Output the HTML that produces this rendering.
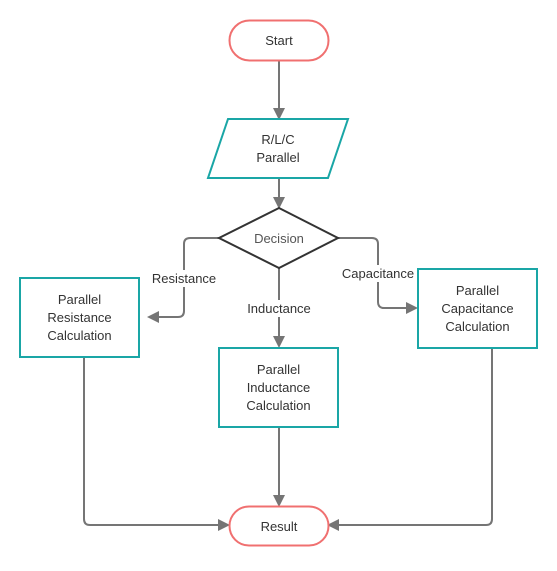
<!DOCTYPE html>
<html><head><style>body{margin:0;background:#fff}</style></head><body>
<svg width="557" height="566" xmlns="http://www.w3.org/2000/svg" font-family="Liberation Sans, sans-serif" font-size="13" fill="#333">
<defs><marker id="a" markerWidth="12" markerHeight="12" refX="10" refY="6" orient="auto" markerUnits="userSpaceOnUse"><path d="M0,0 L12,6 L0,12 z" fill="#757575"/></marker></defs>
<g stroke="#757575" stroke-width="2" fill="none" marker-end="url(#a)">
<path d="M279,60 V118"/>
<path d="M279,178 V207"/>
<path d="M219,238 H190 Q184,238 184,244 V311 Q184,317 178,317 H149"/>
<path d="M338,238 H372 Q378,238 378,244 V302 Q378,308 384,308 H416"/>
<path d="M279,268 V346"/>
<path d="M84,357 V519 Q84,525 90,525 H228"/>
<path d="M279,427 V505"/>
<path d="M492,348 V519 Q492,525 486,525 H329"/>
</g>
<rect x="229.5" y="20.5" width="99" height="40" rx="20" fill="#fff" stroke="#f07070" stroke-width="2"/>
<text x="279" y="45" text-anchor="middle">Start</text>
<polygon points="228,119 348,119 328,178 208,178" fill="#fff" stroke="#1aa6a6" stroke-width="2"/>
<text x="278" y="144" text-anchor="middle">R/L/C</text><text x="278" y="162" text-anchor="middle">Parallel</text>
<polygon points="279,208 338,238 279,268 219,238" fill="#fff" stroke="#333" stroke-width="2"/>
<text x="279" y="243" text-anchor="middle" fill="#555">Decision</text>
<rect x="150" y="270" width="68" height="17" fill="#fff"/><text x="184" y="283" text-anchor="middle">Resistance</text>
<rect x="340" y="265" width="76" height="17" fill="#fff"/><text x="378" y="278" text-anchor="middle">Capacitance</text>
<rect x="243" y="300" width="72" height="17" fill="#fff"/><text x="279" y="313" text-anchor="middle">Inductance</text>
<rect x="20" y="278" width="119" height="79" fill="#fff" stroke="#1aa6a6" stroke-width="2"/>
<text x="79.5" y="304" text-anchor="middle">Parallel</text><text x="79.5" y="322" text-anchor="middle">Resistance</text><text x="79.5" y="340" text-anchor="middle">Calculation</text>
<rect x="219" y="348" width="119" height="79" fill="#fff" stroke="#1aa6a6" stroke-width="2"/>
<text x="278.5" y="374" text-anchor="middle">Parallel</text><text x="278.5" y="392" text-anchor="middle">Inductance</text><text x="278.5" y="410" text-anchor="middle">Calculation</text>
<rect x="418" y="269" width="119" height="79" fill="#fff" stroke="#1aa6a6" stroke-width="2"/>
<text x="477.5" y="295" text-anchor="middle">Parallel</text><text x="477.5" y="313" text-anchor="middle">Capacitance</text><text x="477.5" y="331" text-anchor="middle">Calculation</text>
<rect x="229.5" y="506.5" width="99" height="39" rx="19.5" fill="#fff" stroke="#f07070" stroke-width="2"/>
<text x="279" y="531" text-anchor="middle">Result</text>
</svg>
</body></html>
